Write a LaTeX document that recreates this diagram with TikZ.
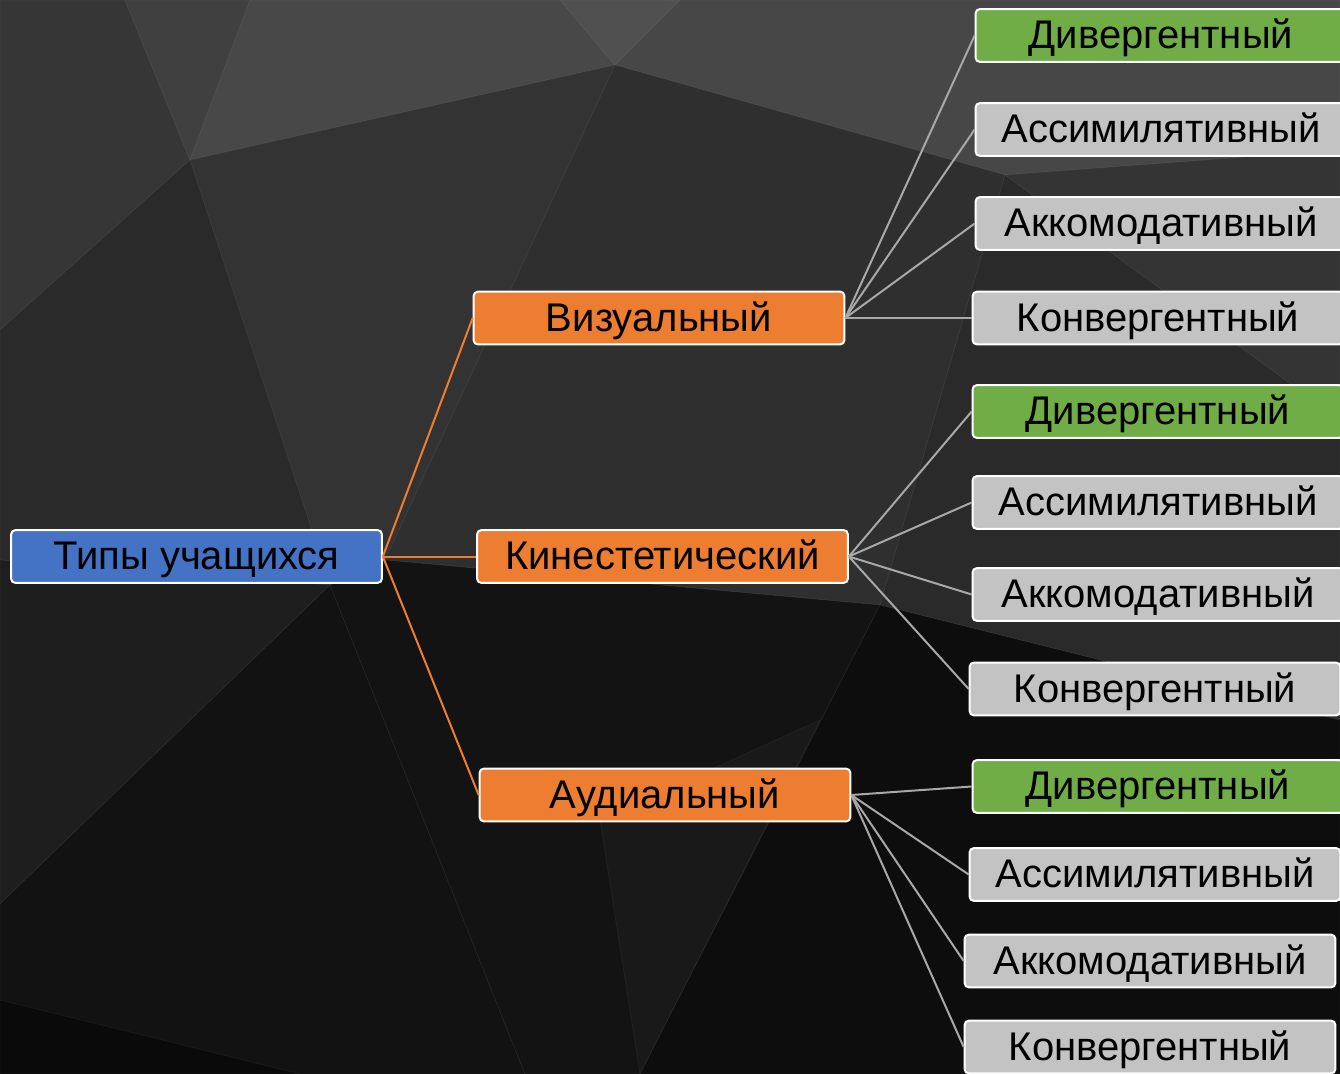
\documentclass[tikz,border=0pt]{standalone}
\usepackage{fontspec}
\setmainfont{Liberation Sans}
\definecolor{rootblue}{HTML}{4472C4}
\definecolor{midorange}{HTML}{ED7D31}
\definecolor{leafgreen}{HTML}{70AD47}
\definecolor{leafgray}{HTML}{C3C3C3}
\definecolor{linkgray}{HTML}{A8A8A8}
\tikzset{
  box/.style={draw=white, line width=1.5pt, rounded corners=3pt, minimum width=278pt, minimum height=39.5pt, inner sep=0pt, text height=25pt, text depth=5pt, text=black, font=\fontsize{30}{30}\selectfont},
  rootbox/.style={box, fill=rootblue},
  midbox/.style={box, fill=midorange},
  greenbox/.style={box, fill=leafgreen},
  graybox/.style={box, fill=leafgray},
  orangelink/.style={draw=midorange, line width=1.5pt},
  graylink/.style={draw=linkgray, line width=1.5pt},
  facet/.style={draw=white, draw opacity=0.05, line width=0.6pt}
}
\begin{document}
\begin{tikzpicture}[x=0.75pt, y=-0.75pt]
\useasboundingbox (0,0) rectangle (1340,1074);
\clip (0,0) rectangle (1340,1074);
% background low-poly
\fill[fill={rgb,255:red,43;green,43;blue,43}] (0,0) rectangle (1340,1074);
\fill[facet, fill={rgb,255:red,54;green,54;blue,54}] (0,0) -- (125,0) -- (190,160) -- (0,330) -- cycle;
\fill[facet, fill={rgb,255:red,64;green,64;blue,64}] (125,0) -- (250,0) -- (190,160) -- cycle;
\fill[facet, fill={rgb,255:red,72;green,72;blue,72}] (250,0) -- (560,0) -- (615,65) -- (190,160) -- cycle;
\fill[facet, fill={rgb,255:red,80;green,80;blue,80}] (560,0) -- (680,0) -- (615,65) -- cycle;
\fill[facet, fill={rgb,255:red,71;green,71;blue,71}] (680,0) -- (1340,0) -- (1340,150) -- (1005,175) -- (615,65) -- cycle;
\fill[facet, fill={rgb,255:red,51;green,51;blue,51}] (190,160) -- (615,65) -- (385,560) -- (330,585) -- cycle;
\fill[facet, fill={rgb,255:red,42;green,42;blue,42}] (0,330) -- (190,160) -- (330,585) -- (0,560) -- cycle;
\fill[facet, fill={rgb,255:red,30;green,30;blue,30}] (0,560) -- (330,585) -- (0,904) -- cycle;
\fill[facet, fill={rgb,255:red,47;green,47;blue,47}] (615,65) -- (1005,175) -- (880,605) -- (385,560) -- cycle;
\fill[facet, fill={rgb,255:red,52;green,52;blue,52}] (1005,175) -- (1340,150) -- (1340,420) -- cycle;
\fill[facet, fill={rgb,255:red,42;green,42;blue,42}] (1005,175) -- (1340,420) -- (1340,720) -- (880,605) -- cycle;
\fill[facet, fill={rgb,255:red,18;green,18;blue,18}] (0,904) -- (330,585) -- (525,1074) -- (0,1074) -- cycle;
\fill[facet, fill={rgb,255:red,19;green,19;blue,19}] (330,585) -- (385,560) -- (880,605) -- (640,1074) -- (525,1074) -- cycle;
\fill[facet, fill={rgb,255:red,25;green,25;blue,25}] (600,820) -- (820,720) -- (640,1074) -- cycle;
\fill[facet, fill={rgb,255:red,13;green,13;blue,13}] (880,605) -- (1340,720) -- (1340,1074) -- (640,1074) -- cycle;
\fill[facet, fill={rgb,255:red,10;green,10;blue,10}] (0,1000) -- (300,1074) -- (0,1074) -- cycle;
% nodes
\node[rootbox] (root) at (196.5,556.5) {Типы учащихся};
\node[midbox] (vis) at (659,318) {Визуальный};
\node[midbox] (kin) at (662.5,556.5) {Кинестетический};
\node[midbox] (aud) at (665,795) {Аудиальный};
% group 1
\node[greenbox] (v1) at (1161,35.5) {Дивергентный};
\node[graybox] (v2) at (1161,129.5) {Ассимилятивный};
\node[graybox] (v3) at (1161,223.5) {Аккомодативный};
\node[graybox] (v4) at (1158,318) {Конвергентный};
% group 2
\node[greenbox] (k1) at (1158,411.5) {Дивергентный};
\node[graybox] (k2) at (1158,502.5) {Ассимилятивный};
\node[graybox] (k3) at (1158,594.5) {Аккомодативный};
\node[graybox] (k4) at (1155,689) {Конвергентный};
% group 3
\node[greenbox] (a1) at (1158,786.5) {Дивергентный};
\node[graybox] (a2) at (1155,874.5) {Ассимилятивный};
\node[graybox] (a3) at (1150,961) {Аккомодативный};
\node[graybox] (a4) at (1150,1047) {Конвергентный};
% connectors
\draw[orangelink] (root.east) -- (vis.west);
\draw[orangelink] (root.east) -- (kin.west);
\draw[orangelink] (root.east) -- (aud.west);
\foreach \c in {v1,v2,v3,v4} \draw[graylink] (vis.east) -- (\c.west);
\foreach \c in {k1,k2,k3,k4} \draw[graylink] (kin.east) -- (\c.west);
\foreach \c in {a1,a2,a3,a4} \draw[graylink] (aud.east) -- (\c.west);
\end{tikzpicture}
\end{document}
